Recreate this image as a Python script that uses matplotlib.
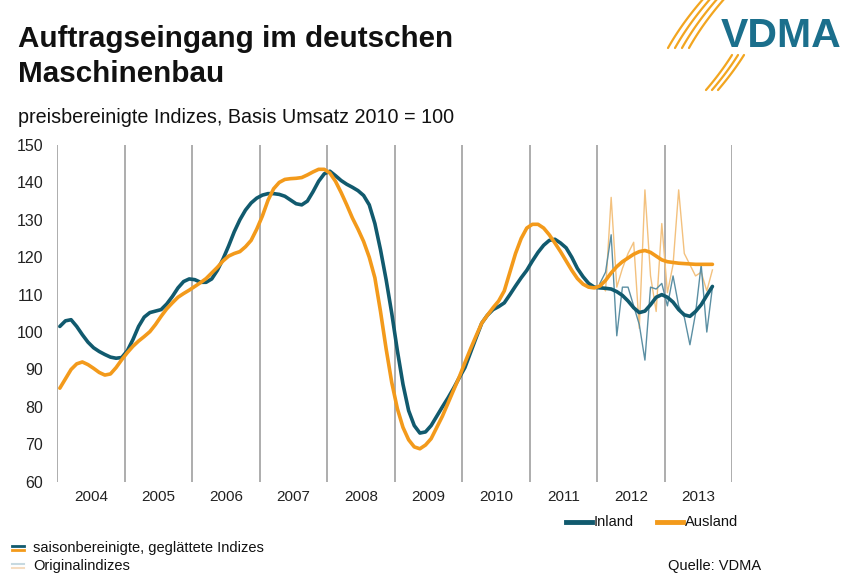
import numpy as np
import matplotlib
matplotlib.use("Agg")
import matplotlib.pyplot as plt
from matplotlib.lines import Line2D

plt.rcParams['font.family'] = ['Liberation Sans', 'DejaVu Sans']

# monthly values Jan 2004 .. Sep 2013
inland_smooth = [
    101.5, 103.0, 103.3, 101.5, 99.3, 97.3, 95.8, 94.8, 94.0, 93.3, 93.0, 93.2,   # 2004
    95.0, 98.0, 101.5, 104.0, 105.2, 105.6, 106.0, 107.5, 109.5, 111.8, 113.5, 114.2,  # 2005
    114.0, 113.3, 113.3, 114.2, 116.5, 119.5, 123.0, 126.8, 130.0, 132.6, 134.5, 135.8,  # 2006
    136.6, 137.0, 137.0, 136.8, 136.3, 135.3, 134.3, 134.0, 135.0, 137.5, 140.3, 142.3,  # 2007
    143.0, 141.8, 140.5, 139.5, 138.7, 137.8, 136.5, 134.0, 129.0, 122.0, 114.0, 105.0,  # 2008
    95.0, 86.0, 79.0, 75.0, 73.0, 73.3, 75.0, 77.5, 80.0, 82.4, 85.0, 87.8,  # 2009
    90.5, 94.5, 98.5, 102.4, 104.5, 106.0, 106.8, 107.8, 110.0, 112.3, 114.5, 116.5,  # 2010
    119.0, 121.3, 123.2, 124.5, 124.8, 123.8, 122.5, 120.0, 117.0, 114.8, 113.0, 112.0,  # 2011
    111.8, 111.7, 111.5, 110.8, 109.8, 108.3, 106.5, 105.2, 105.6, 107.3, 109.3, 110.0,  # 2012
    109.3, 108.0, 106.0, 104.6, 104.2, 105.5, 107.3, 109.8, 112.2,  # 2013
]
ausland_smooth = [
    85.0, 87.5, 90.0, 91.5, 92.0, 91.3, 90.3, 89.2, 88.5, 88.8, 90.5, 92.6,
    94.5, 96.2, 97.6, 98.8, 100.1, 102.0, 104.2, 106.2, 107.8, 109.3, 110.3, 111.2,
    112.2, 113.2, 114.3, 115.8, 117.3, 119.0, 120.3, 121.0, 121.5, 122.8, 124.5, 127.5,
    131.0, 135.2, 138.3, 140.0, 140.8, 141.0, 141.1, 141.3, 142.0, 142.8, 143.5, 143.5,
    142.5, 140.3, 137.3, 134.0, 130.5, 127.5, 124.2, 120.0, 114.5, 105.5, 95.5, 86.5,
    79.5, 74.5, 71.2, 69.3, 68.8, 69.8, 71.5, 74.5, 77.5, 81.0, 84.5, 88.0,
    91.8, 95.5, 99.0, 102.4, 104.5, 106.5, 108.3, 111.0, 116.0, 121.0, 125.0, 127.8,
    128.8, 128.8, 127.8, 126.0, 123.8, 121.5, 119.0, 116.5, 114.3, 112.8, 112.0, 111.8,
    112.3, 113.8, 115.8, 117.5, 118.8, 119.8, 120.8, 121.5, 121.8, 121.3, 120.3, 119.3,
    118.8, 118.6, 118.4, 118.3, 118.2, 118.1, 118.1, 118.1, 118.1,
]
# original (unsmoothed) indices, Jan 2012 .. Sep 2013
inland_orig = [113, 116, 126, 99, 112, 112, 107, 102, 92.5, 112, 111.5, 113,
               107, 115, 107, 104, 96.6, 105, 118, 100, 112]
ausland_orig = [113, 111, 136, 112, 117, 121, 124, 101, 138, 115, 105.5, 129,
                110.5, 118, 138, 121, 118, 115, 116, 111, 116.6]
years = list(range(2004, 2014))

teal = '#115a6e'
orange = '#f39a1b'
teal_thin = '#5b8fa3'
orange_thin = '#f3c17e'

x_all = 2004 + (np.arange(len(inland_smooth)) + 0.5) / 12
x_orig = 2012 + (np.arange(len(inland_orig)) + 0.5) / 12

fig = plt.figure(figsize=(8.6, 5.8), dpi=100)
ax = fig.add_axes([0.0663, 0.1695, 0.785, 0.5805])

for yr in range(2004, 2015):
    ax.axvline(yr, color='#a0a0a0', lw=1.2, zorder=0)

ax.plot(x_orig, ausland_orig, color=orange_thin, lw=1.0, zorder=1)
ax.plot(x_orig, inland_orig, color=teal_thin, lw=1.0, zorder=1)
ax.plot(x_all, inland_smooth, color=teal, lw=2.6, zorder=3,
        solid_joinstyle='round', solid_capstyle='round')
ax.plot(x_all, ausland_smooth, color=orange, lw=2.6, zorder=4,
        solid_joinstyle='round', solid_capstyle='round')

ax.set_xlim(2004, 2014)
ax.set_ylim(60, 150)
ax.set_yticks(range(60, 151, 10))
ax.set_xticks([y + 0.5 for y in years])
ax.set_xticklabels([str(y) for y in years])
ax.tick_params(axis='both', length=0, colors='#222222')
ax.tick_params(axis='x', pad=6, labelsize=11)
ax.tick_params(axis='y', pad=10, labelsize=11.5)
for s in ax.spines.values():
    s.set_visible(False)

# titles
fig.text(0.021, 0.932, 'Auftragseingang im deutschen', fontsize=21.3, fontweight='bold',
         color='#111111', va='center')
fig.text(0.021, 0.872, 'Maschinenbau', fontsize=21.3, fontweight='bold',
         color='#111111', va='center')
fig.text(0.021, 0.798, 'preisbereinigte Indizes, Basis Umsatz 2010 = 100', fontsize=14.2,
         color='#111111', va='center')

# decoration axes in pixel coords
deco = fig.add_axes([0, 0, 1, 1], facecolor='none')
deco.set_xlim(0, 860)
deco.set_ylim(580, 0)
deco.axis('off')

# logo
deco.text(721, 36, 'VDMA', fontsize=29.5, fontweight='bold', color='#1b6f8c', va='center')
t = np.linspace(0, 1, 30)
for i in range(4):
    xs = 668 + 7 * i + 28 * t + 8 * t * t
    ys = 48 - 50 * t
    deco.plot(xs, ys, color='#f2a51f', lw=1.6, solid_capstyle='round')
for i in range(3):
    xs = 744 - 6 * i - 22 * t - 4 * t * t
    ys = 55 + 35 * t
    deco.plot(xs, ys, color='#f2a51f', lw=1.6, solid_capstyle='round')

# series legend
deco.add_line(Line2D([566, 592], [522, 522], color=teal, lw=3.5))
deco.text(594, 522, 'Inland', fontsize=10.5, va='center', color='#111111')
deco.add_line(Line2D([657, 683], [522, 522], color=orange, lw=3.5))
deco.text(685, 522, 'Ausland', fontsize=10.5, va='center', color='#111111')

# line-type legend
deco.add_line(Line2D([12, 24], [545.5, 545.5], color=teal, lw=2))
deco.add_line(Line2D([12, 24], [550, 550], color=orange, lw=2))
deco.text(33, 548, 'saisonbereinigte, geglättete Indizes', fontsize=10.5, va='center', color='#111111')
deco.add_line(Line2D([12, 24], [564, 564], color='#c7d9e0', lw=1.5))
deco.add_line(Line2D([12, 24], [568, 568], color='#f5dcc0', lw=1.5))
deco.text(33, 566, 'Originalindizes', fontsize=10.5, va='center', color='#111111')
deco.text(668, 566, 'Quelle: VDMA', fontsize=10.5, va='center', color='#111111')

fig.savefig('out.png', dpi=100)
